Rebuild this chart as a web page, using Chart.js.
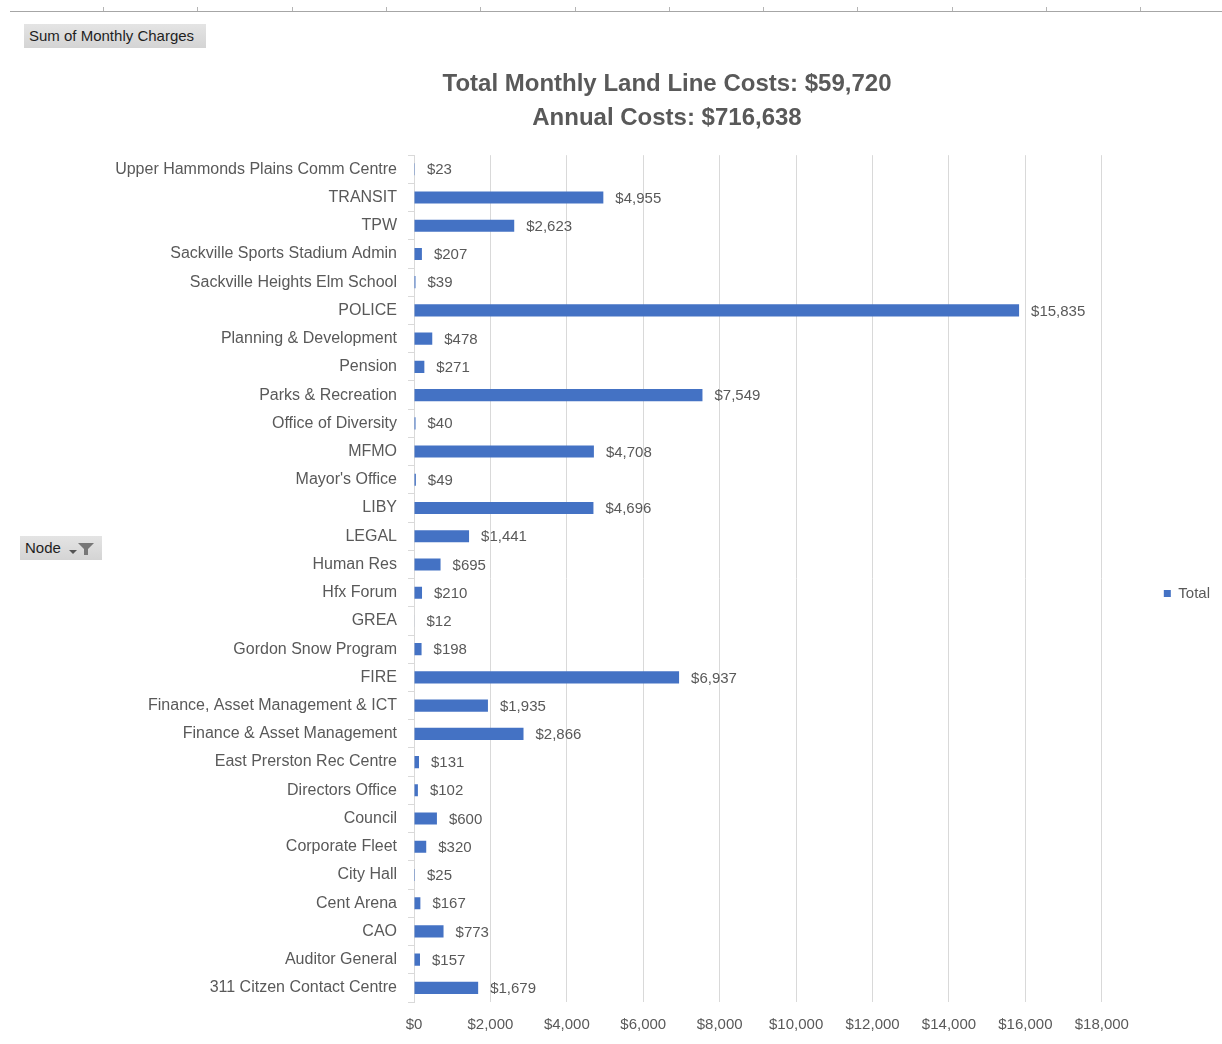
<!DOCTYPE html>
<html>
<head>
<meta charset="utf-8">
<script src="https://cdn.jsdelivr.net/npm/chart.js@4/dist/chart.umd.min.js"></script>
<style>
  html, body { margin: 0; padding: 0; background: #fff; }
  body { width: 1222px; height: 1044px; position: relative; overflow: hidden; font-family: 'Liberation Sans', sans-serif; }
  #topRule { position: absolute; left: 10px; right: 0; top: 11px; border-top: 1px solid #a6a6a6; }
  .tick { position: absolute; top: 7px; width: 1px; height: 4px; background: #b5b5b5; }
  .pivotBtn { position: absolute; background: linear-gradient(#e4e4e4, #d4d4d4); color: #1f1f1f; font-size: 15px; line-height: 24px; height: 24px; box-sizing: border-box; padding-left: 5px; }
  #sumBtn { left: 24px; top: 24px; width: 182px; }
  #nodeBtn { left: 20px; top: 536px; width: 82px; }
  #nodeBtn svg { position: absolute; left: 48px; top: 6px; }
  #wrap { position: absolute; left: 114px; top: 0; width: 1108px; height: 1044px; }
</style>
</head>
<body>
<div id="topRule"></div>
<div id="ticks"></div>
<div class="pivotBtn" id="sumBtn">Sum of Monthly Charges</div>
<div class="pivotBtn" id="nodeBtn">Node
  <svg width="28" height="14" viewBox="0 0 28 14">
    <path d="M1 8 L9 8 L5 12 Z" fill="#555"/>
    <path d="M10 1 L26 1 L20 7 L20 13 L16 13 L16 7 Z" fill="#777"/>
  </svg>
</div>
<div id="wrap"><canvas id="chart"></canvas></div>
<script>
// ruler ticks along the top (spreadsheet column edges)
var ruler = document.getElementById('ticks');
for (var t = 103; t < 1222; t += 94.3) {
  var d = document.createElement('div');
  d.className = 'tick';
  d.style.left = Math.round(t) + 'px';
  ruler.appendChild(d);
}

var nodes = [
  'Upper Hammonds Plains Comm Centre', 'TRANSIT', 'TPW', 'Sackville Sports Stadium Admin',
  'Sackville Heights Elm School', 'POLICE', 'Planning & Development', 'Pension',
  'Parks & Recreation', 'Office of Diversity', 'MFMO', "Mayor's Office", 'LIBY', 'LEGAL',
  'Human Res', 'Hfx Forum', 'GREA', 'Gordon Snow Program', 'FIRE',
  'Finance, Asset Management & ICT', 'Finance & Asset Management', 'East Prerston Rec Centre',
  'Directors Office', 'Council', 'Corporate Fleet', 'City Hall', 'Cent Arena', 'CAO',
  'Auditor General', '311 Citzen Contact Centre'
];
var monthlyCharges = [
  23, 4955, 2623, 207,
  39, 15835, 478, 271,
  7549, 40, 4708, 49, 4696, 1441,
  695, 210, 12, 198, 6937,
  1935, 2866, 131,
  102, 600, 320, 25, 167, 773,
  157, 1679
];
var titleLines = ['Total Monthly Land Line Costs: $59,720', 'Annual Costs: $716,638'];
var seriesName = 'Total';

var FONT = "'Liberation Sans', sans-serif";
var TEXT = '#595959';
var GRID = '#d9d9d9';
var BAR = '#4472c4';

Chart.defaults.font.family = FONT;
Chart.defaults.color = TEXT;

function money(v) { return '$' + Number(v).toLocaleString('en-US'); }

var valueLabels = {
  id: 'valueLabels',
  afterDatasetsDraw: function(chart) {
    var ctx = chart.ctx;
    var meta = chart.getDatasetMeta(0);
    ctx.save();
    ctx.font = '15px ' + FONT;
    ctx.fillStyle = TEXT;
    ctx.textBaseline = 'middle';
    meta.data.forEach(function(bar, i) {
      ctx.fillText(money(monthlyCharges[i]), bar.x + 12, bar.y + 1);
    });
    ctx.restore();
  }
};

new Chart(document.getElementById('chart'), {
  type: 'bar',
  data: {
    labels: nodes,
    datasets: [{
      label: seriesName,
      data: monthlyCharges,
      backgroundColor: BAR,
      borderWidth: 0,
      barPercentage: 0.43,
      categoryPercentage: 1
    }]
  },
  options: {
    indexAxis: 'y',
    responsive: true, maintainAspectRatio: false,
    animation: false,
    layout: {padding: {top: 67, right: 2, bottom: 0, left: 0}},
    plugins: {
      title: {
        display: true, text: titleLines, color: TEXT,
        font: {size: 24, weight: 'bold', lineHeight: 1.42},
        padding: {top: 0, bottom: 20}
      },
      legend: {
        position: 'right',
        title: {display: true, text: ' ', font: {size: 20, lineHeight: 3.8}, padding: 0},
        labels: {boxWidth: 7, boxHeight: 7, padding: 62, color: TEXT, font: {size: 15}}
      },
      tooltip: {enabled: false}
    },
    scales: {
      x: {
        min: 0, max: 18000,
        grid: {color: GRID, drawTicks: false},
        border: {display: false},
        ticks: {stepSize: 2000, padding: 14, color: TEXT, font: {size: 15}, callback: function(v) { return money(v); }},
        afterFit: function(s) { s.height = 42; }
      },
      y: {
        grid: {color: GRID, drawOnChartArea: false, tickLength: 6},
        border: {display: true, color: GRID},
        ticks: {padding: 11, color: TEXT, font: {size: 16}, autoSkip: false},
        afterFit: function(s) { s.width = 300; }
      }
    }
  },
  plugins: [valueLabels]
});
</script>
</body>
</html>
